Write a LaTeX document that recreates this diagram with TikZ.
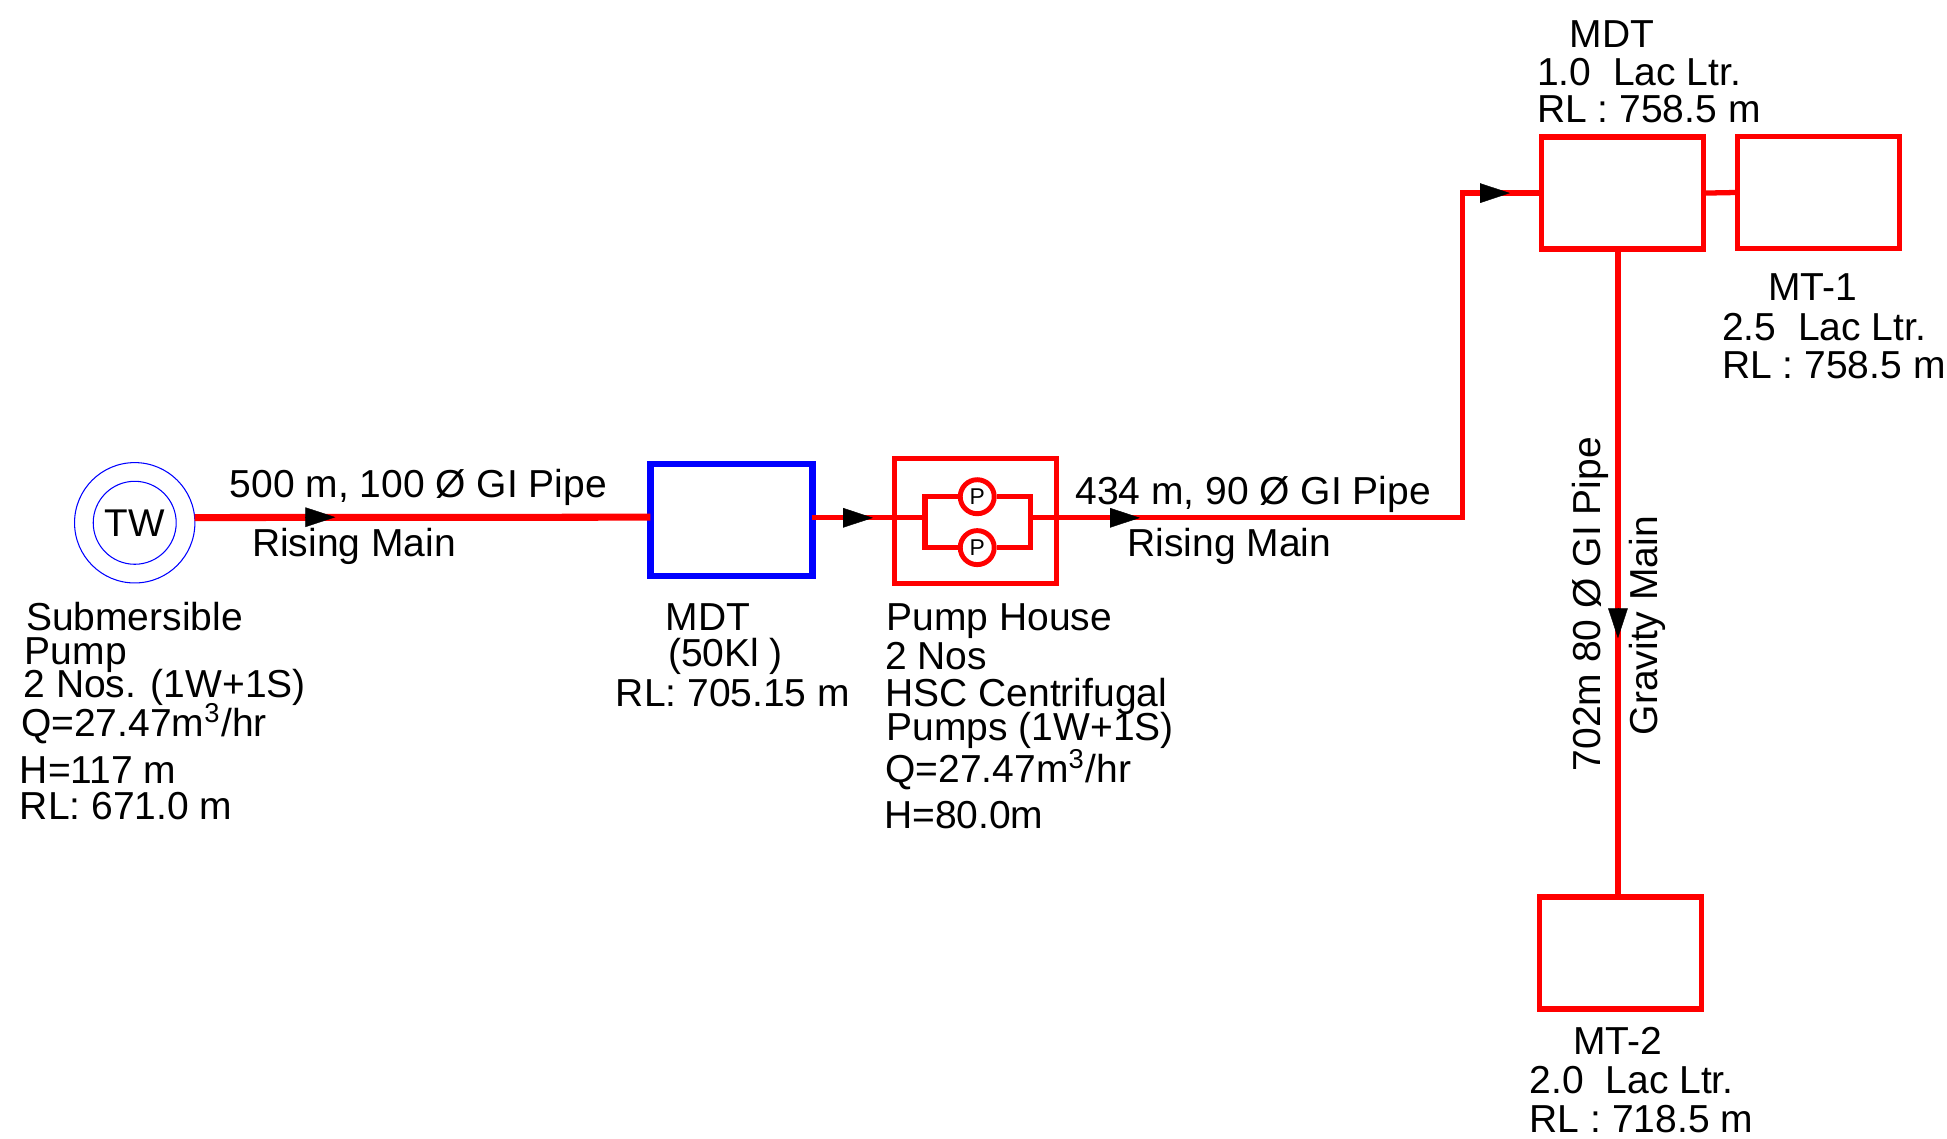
\documentclass[tikz,border=0pt]{standalone}
\usepackage{fontspec}
\setmainfont{Liberation Sans}
\usetikzlibrary{positioning, arrows.meta}
\tikzset{
  tank/.style={draw=red, line width=1.5pt, minimum width=1.62cm, minimum height=1.12cm,
               inner sep=0pt, outer sep=0pt},
  lbl/.style={anchor=base west, inner sep=0pt, outer sep=0pt, yshift=-0.012cm,
              font=\fontsize{11.1}{13}\selectfont},
  flowarrow/.style={line width=0.1pt, -{Triangle[black, length=8.5pt, width=5.6pt]}}
}
\begin{document}
\begin{tikzpicture}[
    x=0.012417cm, y=-0.012417cm,
    pipe/.style={draw=red, line width=1.5pt},
    mainpipe/.style={draw=red, line width=2pt},
    well/.style={circle, draw=blue, line width=0.3pt, inner sep=0pt, outer sep=0pt},
    pumpc/.style={circle, draw=red, fill=white, line width=1.4pt, minimum size=0.34cm,
                  inner sep=0pt, font=\fontsize{6.5}{7}\selectfont}
]
\useasboundingbox (0,0) rectangle (1568,916.5);
\node[well, minimum size=1.204cm] (twout) at (108.5,421) {};
\node[well, minimum size=0.83cm, font=\fontsize{11}{13}\selectfont] (tw) at (108.5,421) {TW};
\node[tank, draw=blue, line width=1.8pt] (sump) at (589,419) {};
\node[tank, minimum height=1.25cm] (house) at (785.5,419.5) {};
\node[tank] (mdttop) at (1306.5,155.5) {};
\node[tank] (mtone) at (1464.5,155) {};
\node[tank] (mttwo) at (1305,767.5) {};
\node[pumpc] (pumpa) at (787,400) {P};
\node[pumpc] (pumpb) at (787,441) {P};
\coordinate (loopl) at (745,417);
\coordinate (loopr) at (830,417);
\coordinate (bend) at (1178,417);
\coordinate (a1) at (270,416.5);
\coordinate (b1) at (247,416.5);
\coordinate (a2) at (703,417);
\coordinate (b2) at (680,417);
\coordinate (a3) at (918,417);
\coordinate (b3) at (895,417);
\coordinate (a4) at (1216,155.5);
\coordinate (b4) at (1193,155.5);
\coordinate (a5) at (1303,514);
\coordinate (b5) at (1303,491);
\draw[mainpipe] (twout.5) -- (a1 -| sump.west);
\draw[pipe] (a2 -| sump.east) -- (loopl);
\draw[pipe] (pumpa.west) -| (loopl) |- (pumpb.west);
\draw[pipe] (pumpa.east) -| (loopr) |- (pumpb.east);
\draw[pipe] (loopr) -- (bend) |- (mdttop.west);
\draw[pipe] (mdttop.east) -- (mtone.west);
\draw[pipe] (a5 |- mdttop.south) -- (a5 |- mttwo.north);
\foreach \i in {1,...,5}
    \draw[flowarrow] (b\i) -- (a\i);
\node[lbl] (pipea) at (185,400) {500 m, 100 Ø GI Pipe};
\node[lbl] (risea) at (203,447) {Rising Main};
\node[lbl] (pipeb) at (866,405) {434 m, 90 Ø GI Pipe};
\node[lbl] (riseb) at (908,447) {Rising Main};
\node[lbl, rotate=90] (pipec) at (1289,620) {702m 80 Ø GI Pipe};
\node[lbl, rotate=90] (gravity) at (1335,591) {Gravity Main};
\node[lbl] (suba) at (21,507) {Submersible};
\node[lbl] (subb) at (20,534) {Pump};
\node[lbl] (subc) at (19,561) {2 Nos. (1W+1S)};
\node[lbl] (subd) at (17,592) {Q=27.47m\textsuperscript{3}/hr};
\node[lbl] (sube) at (16,630) {H=117 m};
\node[lbl] (subf) at (16,659) {RL: 671.0 m};
\node[lbl] (sumpa) at (536,507) {MDT};
\node[lbl] (sumpb) at (538,536) {(50Kl )};
\node[lbl] (sumpc) at (496,568) {RL: 705.15 m};
\node[lbl] (housea) at (714,507) {Pump House};
\node[lbl] (houseb) at (713,538) {2 Nos};
\node[lbl] (housec) at (713,568) {HSC Centrifugal};
\node[lbl] (housed) at (714,595) {Pumps (1W+1S)};
\node[lbl] (housee) at (713,629) {Q=27.47m\textsuperscript{3}/hr};
\node[lbl] (housef) at (712,666) {H=80.0m};
\node[lbl] (mdta) at (1264,37) {MDT};
\node[lbl] (mdtb) at (1238,68) {1.0\ \ Lac Ltr.};
\node[lbl] (mdtc) at (1238,98) {RL : 758.5 m};
\node[lbl] (mtonea) at (1424,241) {MT-1};
\node[lbl] (mtoneb) at (1387,273) {2.5\ \ Lac Ltr.};
\node[lbl] (mtonec) at (1387,304) {RL : 758.5 m};
\node[lbl] (mttwoa) at (1267,848) {MT-2};
\node[lbl] (mttwob) at (1232,880) {2.0\ \ Lac Ltr.};
\node[lbl] (mttwoc) at (1232,911) {RL : 718.5 m};
\end{tikzpicture}
\end{document}
